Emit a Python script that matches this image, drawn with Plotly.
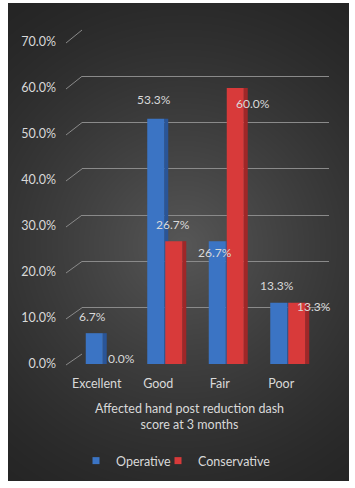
import base64, struct, zlib
import numpy as np
import plotly.graph_objects as go

# ---------------- data ----------------
categories = ["Excellent", "Good", "Fair", "Poor"]
operative = [6.7, 53.3, 26.7, 13.3]
conservative = [0.0, 26.7, 60.0, 13.3]
tick_values = [0, 10, 20, 30, 40, 50, 60, 70]
tick_labels = ["0.0%", "10.0%", "20.0%", "30.0%", "40.0%", "50.0%", "60.0%", "70.0%"]
series_names = ["Operative", "Conservative"]
x_title = "Affected hand post reduction dash<br>score at 3 months"

# ---------------- geometry (pixels) ----------------
W, H = 355, 488
L, R, T, B = 8, 6, 3, 7
PW, PH = W - L - R, H - T - B


def fx(px):
    return (px - L) / PW


def fy(py):
    return (H - B - py) / PH


# front plane (bars + tick labels)
F_X0, F_X1 = 73, 319
F_Y0, F_Y1 = 364, 42          # pixel of 0% and 70%
# back wall (gridlines)
B_X0, B_X1 = 82, 329
B_Y0, B_Y1 = 354, 30
YMAX = 70

cat_px = (F_X1 - F_X0) / len(categories)
front_w = 17 / cat_px
side_w = 4 / cat_px
op_off = -18 / cat_px
co_off = 0.0

BLUE, BLUE_SIDE = "#3b74c4", "#2a5597"
RED, RED_SIDE = "#d83a3a", "#9f2728"
TXT = "#d9d9d9"
GRID = "#8a8a8a"
FONT = "Lato, 'Open Sans', sans-serif"

# ---------------- background radial gradient image ----------------
yy, xx = np.mgrid[0:PH, 0:PW]
cx, cy = 183 - L, 245 - T
r = np.sqrt((xx - cx) ** 2 + (yy - cy) ** 2)
t = np.clip(r / 300.0, 0, 1)
v = 37 + 50 * (1 - t) ** 1.35
img = np.stack([v, v, v], axis=-1).astype(np.uint8)


def to_png(arr):
    h, w, _ = arr.shape
    raw = b"".join(b"\x00" + arr[i].tobytes() for i in range(h))

    def chunk(tag, data):
        return (struct.pack(">I", len(data)) + tag + data +
                struct.pack(">I", zlib.crc32(tag + data) & 0xFFFFFFFF))

    return (b"\x89PNG\r\n\x1a\n" +
            chunk(b"IHDR", struct.pack(">IIBBBBB", w, h, 8, 2, 0, 0, 0)) +
            chunk(b"IDAT", zlib.compress(raw, 9)) + chunk(b"IEND", b""))


bg_uri = "data:image/png;base64," + base64.b64encode(to_png(img)).decode()

# ---------------- figure ----------------
fig = go.Figure()

# empty trace so the back-wall subplot (gridlines) is created
fig.add_trace(go.Scatter(x=[], y=[], xaxis="x", yaxis="y", showlegend=False,
                         hoverinfo="skip"))

# bars drawn on the front plane (x2/y2)
fig.add_trace(go.Bar(x=categories, y=operative, xaxis="x2", yaxis="y2",
                     offset=op_off + front_w, width=side_w, marker_color=BLUE_SIDE,
                     marker_line_width=0, showlegend=False, hoverinfo="skip"))
fig.add_trace(go.Bar(x=categories, y=operative, xaxis="x2", yaxis="y2", name=series_names[0],
                     offset=op_off, width=front_w, marker_color=BLUE, marker_line_width=0,
                     showlegend=False))
fig.add_trace(go.Bar(x=categories, y=conservative, xaxis="x2", yaxis="y2",
                     offset=co_off + front_w, width=side_w, marker_color=RED_SIDE,
                     marker_line_width=0, showlegend=False, hoverinfo="skip"))
fig.add_trace(go.Bar(x=categories, y=conservative, xaxis="x2", yaxis="y2", name=series_names[1],
                     offset=co_off, width=front_w, marker_color=RED, marker_line_width=0,
                     showlegend=False))

# legend entries with small square keys (one legend box per series)
for name, col, lg in zip(series_names, [BLUE, RED], ["legend", "legend2"]):
    fig.add_trace(go.Scatter(x=[None], y=[None], xaxis="x2", yaxis="y2", mode="markers",
                             name=name, legend=lg,
                             marker=dict(symbol="square", size=7, color=col)))

# data labels
op_dx, op_dy = [-2, -2, -2, -2], [17, 19, -11, 17]
co_dx, co_dy = [9, -1, 18, 17], [6, 17, -15, -4]
annotations = []
for vals, off, dxs, dys in [(operative, op_off, op_dx, op_dy),
                            (conservative, co_off, co_dx, co_dy)]:
    bar_center = (off + front_w / 2) * cat_px
    for c, val, dx, dy in zip(categories, vals, dxs, dys):
        annotations.append(dict(x=c, y=val, xref="x2", yref="y2", text=f"{val:.1f}%",
                                showarrow=False, xshift=bar_center + dx, yshift=dy,
                                font=dict(size=12, color=TXT, family=FONT)))
annotations.append(dict(x=fx(189), y=fy(416), xref="paper", yref="paper", text=x_title,
                        showarrow=False, xanchor="center", yanchor="middle",
                        font=dict(size=12.5, color=TXT, family=FONT)))

# diagonal connectors between front tick and back gridline
shapes = []
for tv in tick_values:
    py_front = F_Y0 + (F_Y1 - F_Y0) * tv / YMAX
    py_back = B_Y0 + (B_Y1 - B_Y0) * tv / YMAX
    shapes.append(dict(type="line", xref="paper", yref="paper",
                       x0=fx(66), y0=fy(py_front + 1), x1=fx(B_X0), y1=fy(py_back),
                       line=dict(color=GRID, width=1), layer="below"))

legend_style = dict(orientation="h", y=fy(461), xanchor="left", yanchor="middle",
                    bgcolor="rgba(0,0,0,0)", font=dict(size=12.5, color=TXT),
                    itemwidth=30)

fig.update_layout(
    width=W, height=H,
    margin=dict(l=L, r=R, t=T, b=B, autoexpand=False),
    paper_bgcolor="white", plot_bgcolor="rgba(0,0,0,0)",
    font=dict(family=FONT, color=TXT, size=12),
    barmode="overlay",
    images=[dict(source=bg_uri, xref="paper", yref="paper", x=0, y=1, sizex=1, sizey=1,
                 xanchor="left", yanchor="top", sizing="stretch", layer="below")],
    # back wall: gridlines
    xaxis=dict(domain=[fx(B_X0), fx(B_X1)], range=[0, 1], anchor="y",
               showgrid=False, zeroline=False, showline=False, showticklabels=False,
               ticks=""),
    yaxis=dict(domain=[fy(B_Y0), fy(B_Y1)], range=[0, YMAX], anchor="x",
               tickvals=tick_values, showticklabels=False, showgrid=True,
               gridcolor=GRID, gridwidth=1, zeroline=False, showline=False, ticks=""),
    # front plane: bars
    xaxis2=dict(domain=[fx(F_X0), fx(F_X1)], range=[-0.5, len(categories) - 0.5],
                anchor="y2", type="category", showgrid=False, zeroline=False,
                showline=False, ticks="", tickfont=dict(size=12.5, color=TXT),
                ticklabelshift=-7, ticklabelstandoff=10),
    yaxis2=dict(domain=[fy(F_Y0), fy(F_Y1)], range=[0, YMAX], anchor="free",
                position=fx(58), tickvals=tick_values, ticktext=tick_labels,
                showgrid=False, zeroline=False, showline=False, ticks="",
                tickfont=dict(size=12.5, color=TXT), ticklabelstandoff=2),
    legend=dict(x=fx(76), **legend_style),
    legend2=dict(x=fx(158), **legend_style),
    annotations=annotations,
    shapes=shapes,
)

fig.write_html("out.html", post_script="document.body.style.margin='0px';",
               config={"displayModeBar": False})
